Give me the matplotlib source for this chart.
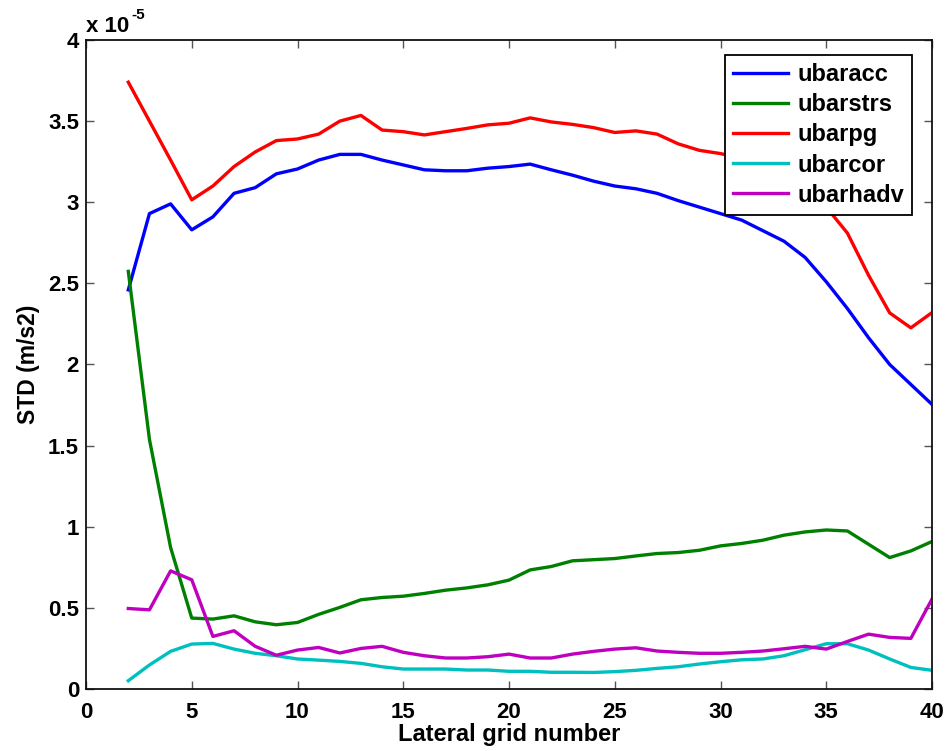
import matplotlib
matplotlib.use("Agg")
import matplotlib.pyplot as plt
import numpy as np

# Lateral grid index and standard deviations (units of 1e-5 m/s2)
grid = list(range(2, 41))

ubaracc = [2.46, 2.93, 2.99, 2.83, 2.91, 3.055, 3.09, 3.175, 3.205, 3.26,
           3.295, 3.295, 3.26, 3.23, 3.20, 3.194, 3.194, 3.21, 3.22, 3.235,
           3.20, 3.167, 3.13, 3.10, 3.083, 3.055, 3.01, 2.97, 2.93, 2.89,
           2.825, 2.76, 2.66, 2.51, 2.345, 2.165, 2.0, 1.877, 1.754]

ubarstrs = [2.574, 1.538, 0.872, 0.437, 0.431, 0.451, 0.414, 0.396, 0.41, 0.46,
            0.503, 0.55, 0.564, 0.572, 0.589, 0.609, 0.623, 0.642, 0.671, 0.734,
            0.755, 0.79, 0.797, 0.804, 0.82, 0.835, 0.841, 0.855, 0.882, 0.897,
            0.917, 0.948, 0.968, 0.98, 0.974, 0.892, 0.81, 0.851, 0.909]

ubarpg = [3.74, 3.50, 3.26, 3.015, 3.10, 3.22, 3.31, 3.38, 3.39, 3.42,
          3.50, 3.535, 3.445, 3.435, 3.415, 3.435, 3.455, 3.477, 3.487, 3.52,
          3.495, 3.48, 3.46, 3.43, 3.44, 3.42, 3.36, 3.32, 3.30, 3.27,
          3.22, 3.16, 3.08, 2.97, 2.81, 2.55, 2.318, 2.226, 2.32]

ubarcor = [0.051, 0.148, 0.232, 0.277, 0.281, 0.246, 0.22, 0.205, 0.185, 0.178,
           0.17, 0.158, 0.137, 0.123, 0.123, 0.123, 0.117, 0.117, 0.109, 0.109,
           0.103, 0.103, 0.102, 0.107, 0.115, 0.127, 0.137, 0.154, 0.168, 0.18,
           0.185, 0.205, 0.242, 0.279, 0.279, 0.24, 0.185, 0.133, 0.115]

ubarhadv = [0.496, 0.488, 0.728, 0.673, 0.324, 0.359, 0.263, 0.208, 0.24, 0.256,
            0.222, 0.25, 0.263, 0.226, 0.205, 0.191, 0.191, 0.199, 0.215, 0.191,
            0.191, 0.215, 0.232, 0.246, 0.254, 0.234, 0.226, 0.22, 0.22, 0.226,
            0.234, 0.248, 0.263, 0.246, 0.293, 0.338, 0.318, 0.312, 0.554]

series_names = ["ubaracc", "ubarstrs", "ubarpg", "ubarcor", "ubarhadv"]
series_colors = ["#0000ff", "#008000", "#ff0000", "#00bfbf", "#bf00bf"]

xticks = [0, 5, 10, 15, 20, 25, 30, 35, 40]
yticks = [0, 0.5, 1, 1.5, 2, 2.5, 3, 3.5, 4]
ytick_labels = ["0", "0.5", "1", "1.5", "2", "2.5", "3", "3.5", "4"]

plt.rcParams["font.family"] = ["Liberation Sans", "DejaVu Sans"]
plt.rcParams["font.weight"] = "bold"

fig = plt.figure(figsize=(9.51, 7.51), dpi=100)
ax = fig.add_axes([86 / 951, 62 / 751, 846 / 951, 649 / 751])

for name, vals, col in zip(series_names,
                           [ubaracc, ubarstrs, ubarpg, ubarcor, ubarhadv],
                           series_colors):
    ax.plot(grid, vals, color=col, lw=2.4, label=name)

ax.set_xlim(0, 40)
ax.set_ylim(0, 4)
ax.set_xticks(xticks)
ax.set_yticks(yticks)
ax.set_yticklabels(ytick_labels)
ax.tick_params(direction="in", length=6, width=1, labelsize=16,
               top=True, right=True, color="#555555")
ax.tick_params(axis="x", pad=9)
ax.tick_params(axis="y", pad=5)
for lab in ax.get_xticklabels() + ax.get_yticklabels():
    lab.set_fontweight("bold")
for sp in ax.spines.values():
    sp.set_linewidth(1.3)
    sp.set_color("#111111")

ax.set_xlabel("Lateral grid number", fontsize=17, fontweight="bold", labelpad=0)
ax.set_ylabel("STD (m/s2)", fontsize=16.5, fontweight="bold", labelpad=6)

# scale factor annotation above the y axis
ax.text(0.0, 1.004, "x 10", transform=ax.transAxes,
        fontsize=16, fontweight="bold", ha="left", va="bottom")
ax.text(0.0535, 1.027, "-5", transform=ax.transAxes,
        fontsize=11, fontweight="bold", ha="left", va="bottom")

leg = ax.legend(loc="upper right", bbox_to_anchor=(0.9764, 0.9769),
                borderaxespad=0, fancybox=False, framealpha=1,
                edgecolor="black", fontsize=17, handlelength=2.3,
                handletextpad=0.4, labelspacing=0.3, borderpad=0.35)
leg.get_frame().set_linewidth(1.3)
for t in leg.get_texts():
    t.set_fontweight("bold")

fig.savefig("out.png", dpi=100)
